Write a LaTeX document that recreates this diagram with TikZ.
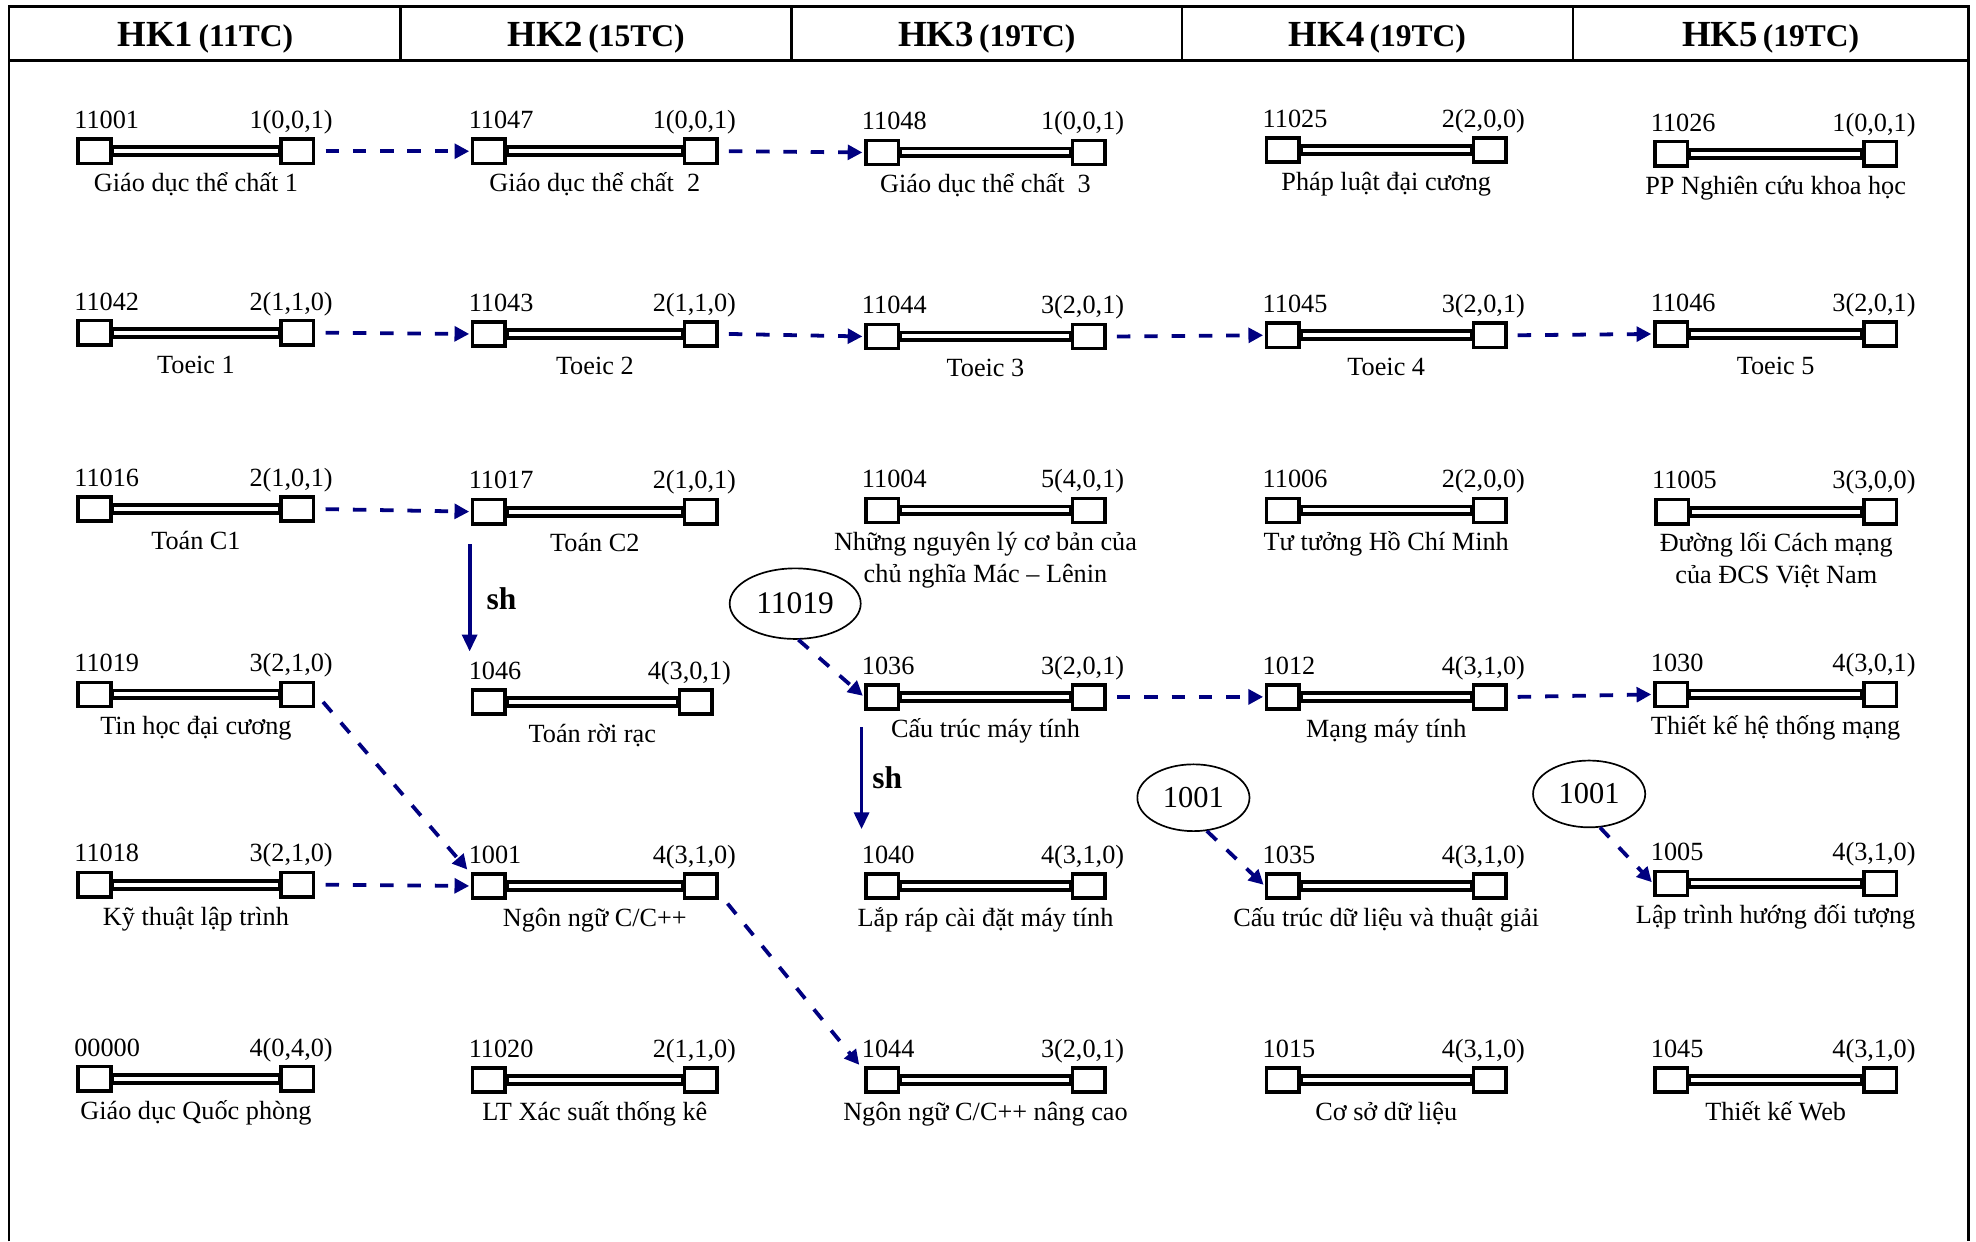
\documentclass[tikz,border=0pt]{standalone}
\usepackage{fontspec}
\setmainfont{Liberation Serif}
\usetikzlibrary{arrows.meta,calc,shapes.geometric}
\definecolor{navyarrow}{RGB}{0,0,128}
\tikzset{
  cbox/.style={draw, line width=1.7pt, fill=white, minimum width=15.5pt, minimum height=11.5pt, inner sep=0pt},
  cbar/.style={line width=5.6pt, black},
  cbarin/.style={line width=1.9pt, white},
  numtxt/.style={font=\fontsize{12.5}{15}\selectfont, inner sep=0pt},
  labtxt/.style={font=\fontsize{12.5}{15}\selectfont, inner sep=0pt, anchor=base},
  dasharrow/.style={navyarrow, line width=1.8pt, dash pattern=on 6.4pt off 6.6pt, shorten >=0.8pt, -{Triangle[length=7pt,width=7pt]}},
  sharrow/.style={navyarrow, line width=1.8pt, -{Triangle[length=8pt,width=7pt]}},
  shtxt/.style={font=\fontsize{15}{18}\selectfont\bfseries, inner sep=0pt},
  oval/.style={draw, ellipse, line width=0.8pt, inner sep=0pt},
  framest/.style={line width=1.2pt},
  hdr/.style={inner sep=0pt, anchor=base}
}
\newcommand\course[7]{%
  \node[cbox] (#1L) at (#2,#4) {};
  \node[cbox] (#1R) at (#3,#4) {};
  \draw[cbar] (#1L.east) -- (#1R.west);
  \draw[cbarin, shorten <=0.85pt, shorten >=0.85pt] (#1L.east) -- (#1R.west);
  \node[numtxt, anchor=base west] (#1n) at ($(#1L.north west)+(-2,-7)$) {#5};
  \node[numtxt, anchor=base east] (#1c) at ($(#1R.north east)+(14,-7)$) {#6};
  \node[labtxt] (#1t) at ($(#1L.south)!0.5!(#1R.south)+(0,21)$) {#7};
}
\newcommand\hktitle[2]{\textbf{\fontsize{17.5}{21}\selectfont #1} \textbf{\fontsize{15}{18}\selectfont #2}}
\begin{document}
\begin{tikzpicture}[x=0.6pt,y=-0.6pt]
\useasboundingbox (0,0) rectangle (1568,985);
% frame and header
\draw[framest] (7,985) -- (7,5) -- (1562,5) -- (1562,985);
\draw[framest] (7,48) -- (1562,48);
\foreach \xx in {318,628,938,1248} \draw[framest] (\xx,5) -- (\xx,48);
\node[hdr] (h1) at (163,37) {\hktitle{HK1}{(11TC)}};
\node[hdr] (h2) at (473,37) {\hktitle{HK2}{(15TC)}};
\node[hdr] (h3) at (783,37) {\hktitle{HK3}{(19TC)}};
\node[hdr] (h4) at (1093,37) {\hktitle{HK4}{(19TC)}};
\node[hdr] (h5) at (1405,37) {\hktitle{HK5}{(19TC)}};

% row 1
\course{c11001}{75}{236}{120}{11001}{1(0,0,1)}{Giáo dục thể chất 1}
\course{c11047}{388}{556}{120}{11047}{1(0,0,1)}{Giáo dục thể chất~ 2}
\course{c11048}{700}{864}{121}{11048}{1(0,0,1)}{Giáo dục thể chất~ 3}
\course{c11025}{1018}{1182}{119}{11025}{2(2,0,0)}{Pháp luật đại cương}
\course{c11026}{1326}{1492}{122}{11026}{1(0,0,1)}{PP Nghiên cứu khoa học}
% row 2
\course{c11042}{75}{236}{264}{11042}{2(1,1,0)}{Toeic 1}
\course{c11043}{388}{556}{265}{11043}{2(1,1,0)}{Toeic 2}
\course{c11044}{700}{864}{267}{11044}{3(2,0,1)}{Toeic 3}
\course{c11045}{1018}{1182}{266}{11045}{3(2,0,1)}{Toeic 4}
\course{c11046}{1326}{1492}{265}{11046}{3(2,0,1)}{Toeic 5}
% row 3
\course{c11016}{75}{236}{404}{11016}{2(1,0,1)}{Toán C1}
\course{c11017}{388}{556}{406}{11017}{2(1,0,1)}{Toán C2}
\course{c11004}{700}{864}{405}{11004}{5(4,0,1)}{\begin{tabular}[t]{@{}c@{}}Những nguyên lý cơ bản của\\chủ nghĩa Mác – Lênin\end{tabular}}
\course{c11006}{1018}{1182}{405}{11006}{2(2,0,0)}{Tư tưởng Hồ Chí Minh}
\course{c11005}{1327}{1492}{406}{11005}{3(3,0,0)}{\begin{tabular}[t]{@{}c@{}}Đường lối Cách mạng\\của ĐCS Việt Nam\end{tabular}}
% row 4
\course{c11019}{75}{236}{551}{11019}{3(2,1,0)}{Tin học đại cương}
\course{c1046}{388}{552}{557}{1046}{4(3,0,1)}{Toán rời rạc}
\course{c1036}{700}{864}{553}{1036}{3(2,0,1)}{Cấu trúc máy tính}
\course{c1012}{1018}{1182}{553}{1012}{4(3,1,0)}{Mạng máy tính}
\course{c1030}{1326}{1492}{551}{1030}{4(3,0,1)}{Thiết kế hệ thống mạng}
% row 5
\course{c11018}{75}{236}{702}{11018}{3(2,1,0)}{Kỹ thuật lập trình}
\course{c1001}{388}{556}{703}{1001}{4(3,1,0)}{Ngôn ngữ C/C++}
\course{c1040}{700}{864}{703}{1040}{4(3,1,0)}{Lắp ráp cài đặt máy tính}
\course{c1035}{1018}{1182}{703}{1035}{4(3,1,0)}{Cấu trúc dữ liệu và thuật giải}
\course{c1005}{1326}{1492}{701}{1005}{4(3,1,0)}{Lập trình hướng đối tượng}
% row 6
\course{c00000}{75}{236}{856}{00000}{4(0,4,0)}{Giáo dục Quốc phòng}
\course{c11020}{388}{556}{857}{11020}{2(1,1,0)}{LT Xác suất thống kê}
\course{c1044}{700}{864}{857}{1044}{3(2,0,1)}{Ngôn ngữ C/C++ nâng cao}
\course{c1015}{1018}{1182}{857}{1015}{4(3,1,0)}{Cơ sở dữ liệu}
\course{c1045}{1326}{1492}{857}{1045}{4(3,1,0)}{Thiết kế Web}

% ellipses
\node[oval, minimum width=62.4pt, minimum height=33.6pt, font=\fontsize{15}{18}\selectfont] (e11019) at (631,479) {11019};
\node[oval, minimum width=53.4pt, minimum height=31.8pt, font=\fontsize{14.5}{17}\selectfont] (e1001a) at (947,633) {1001};
\node[oval, minimum width=53.4pt, minimum height=31.8pt, font=\fontsize{14.5}{17}\selectfont] (e1001b) at (1261,630) {1001};

% horizontal dashed arrows
\draw[dasharrow] ($(c11001R.east)+(8,0)$) -- (c11047L.west);
\draw[dasharrow] ($(c11047R.east)+(8,0)$) -- (c11048L.west);
\draw[dasharrow] ($(c11042R.east)+(8,0)$) -- (c11043L.west);
\draw[dasharrow] ($(c11043R.east)+(8,0)$) -- (c11044L.west);
\draw[dasharrow] ($(c11044R.east)+(8,0)$) -- (c11045L.west);
\draw[dasharrow] ($(c11045R.east)+(8,0)$) -- (c11046L.west);
\draw[dasharrow] ($(c11016R.east)+(8,0)$) -- (c11017L.west);
\draw[dasharrow] ($(c1036R.east)+(8,0)$) -- (c1012L.west);
\draw[dasharrow] ($(c1012R.east)+(8,0)$) -- (c1030L.west);
\draw[dasharrow] ($(c11018R.east)+(8,0)$) -- (c1001L.west);
% diagonal dashed arrows
\draw[dasharrow] ($(c11019R.east)+(6,6)$) -- ($(c1001L.north west)+(-2,-1)$);
\draw[dasharrow] ($(c1001R.south east)+(7,3)$) -- ($(c1044L.north west)+(-3,0)$);
\draw[dasharrow] (e11019.-85) -- (c1036L.west);
\draw[dasharrow] (e1001a.-68) -- (c1035L.west);
\draw[dasharrow] (e1001b.-72) -- (c1005L.west);
% sh arrows
\draw[sharrow] ($(c11017L.south west)+(-1,15)$) -- ($(c1046L.north west)+(-1,-29)$);
\node[shtxt] (sh1) at (398,475) {sh};
\draw[sharrow] ($(c1036L.south west)+(-2,13)$) -- ($(c1040L.north west)+(-2,-34)$);
\node[shtxt] (sh2) at (704,617) {sh};
\end{tikzpicture}
\end{document}
